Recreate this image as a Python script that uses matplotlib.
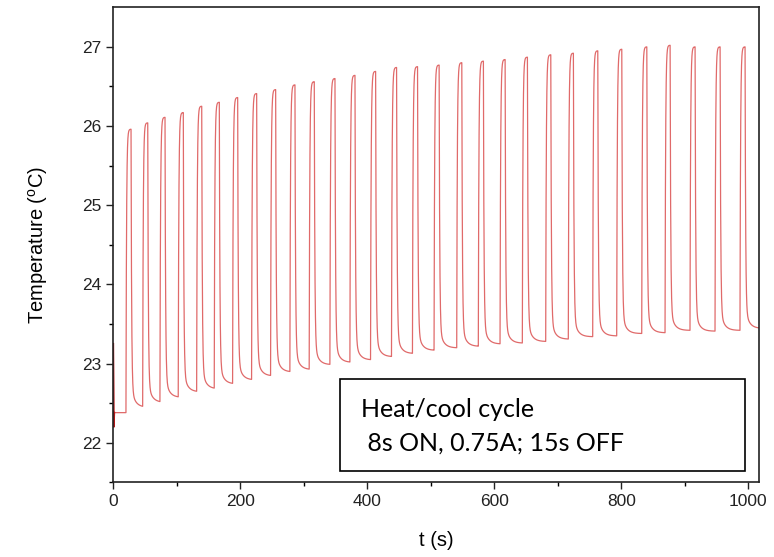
import numpy as np
import matplotlib
matplotlib.use("Agg")
import matplotlib.pyplot as plt
from matplotlib.patches import Rectangle

plt.rcParams['font.family'] = ['Liberation Sans', 'DejaVu Sans']
plt.rcParams['mathtext.default'] = 'regular'

# values
start_t = [0.0, 0.8, 1.6]
start_T = [23.25, 22.2, 22.38]

peak_t = [27.9, 54.2, 81.4, 110.2, 139.2, 166.9, 195.8, 225.7, 255.6, 286.0,
          316.4, 349.0, 380.5, 413.0, 446.0, 479.0, 513.0, 548.7, 582.7, 616.9,
          652.0, 688.8, 724.4, 762.8, 800.6, 840.0, 876.7, 916.0, 955.4, 994.7]
peak_T = [25.96, 26.04, 26.11, 26.17, 26.25, 26.30, 26.36, 26.41, 26.46, 26.52,
          26.56, 26.60, 26.64, 26.69, 26.74, 26.75, 26.77, 26.80, 26.82, 26.84,
          26.87, 26.90, 26.92, 26.95, 26.97, 27.00, 27.02, 27.00, 27.00, 27.00]
# trough before each peak, plus the last one at the right edge
trough_T = [22.38, 22.46, 22.52, 22.58, 22.65, 22.69, 22.75, 22.80, 22.85, 22.90,
            22.93, 22.99, 23.02, 23.05, 23.09, 23.13, 23.17, 23.20, 23.22, 23.25,
            23.26, 23.28, 23.31, 23.34, 23.35, 23.38, 23.39, 23.42, 23.41, 23.42,
            23.45]
t_end = 1017.0
t_on = 8.0


def build_curve():
    # join the read peaks/troughs with heating and cooling segments
    ts = list(start_t)
    Ts = list(start_T)
    n = len(peak_t)
    for i in range(n):
        tp, Tp, Tb = peak_t[i], peak_T[i], trough_T[i]
        t0 = tp - t_on
        ts.append(t0)
        Ts.append(Tb)
        th = np.linspace(0, t_on, 40)[1:]
        rise = (1 - np.exp(-th / 0.9)) / (1 - np.exp(-t_on / 0.9))
        ts.extend(t0 + th)
        Ts.extend(Tb + (Tp - Tb) * rise)
        t_next = peak_t[i + 1] - t_on if i + 1 < n else t_end
        Tn = trough_T[i + 1]
        tc = np.linspace(0, t_next - tp, 80)[1:]
        span = t_next - tp
        fall = 0.93 * np.exp(-tc / 0.9) + 0.07 * np.exp(-tc / 6.0)
        fall_end = 0.93 * np.exp(-span / 0.9) + 0.07 * np.exp(-span / 6.0)
        fall = (fall - fall_end) / (1 - fall_end)
        ts.extend(tp + tc)
        Ts.extend(Tn + (Tp - Tn) * fall)
    return np.array(ts), np.array(Ts)


t, T = build_curve()

fig = plt.figure(figsize=(7.74, 5.57), dpi=100)
ax = fig.add_axes([0.1464, 0.1341, 0.8345, 0.8528])

ax.plot(t, T, color='#e06a6a', linewidth=0.9)
ax.plot(start_t, start_T, color='#b01818', linewidth=1.2)

ax.set_xlim(0, t_end)
ax.set_ylim(21.5, 27.5)
ax.set_xticks([0, 200, 400, 600, 800, 1000])
ax.set_xticks([100, 300, 500, 700, 900], minor=True)
ax.set_yticks([22, 23, 24, 25, 26, 27])
ax.set_yticks([21.5, 22.5, 23.5, 24.5, 25.5, 26.5], minor=True)
ax.tick_params(direction='out', length=5, width=1, labelsize=12.5, colors='#222222')
ax.tick_params(which='minor', direction='out', length=3, width=1)
for s in ax.spines.values():
    s.set_linewidth(1.2)
    s.set_color('#222222')

ax.set_xlabel('t (s)', fontsize=14.5, labelpad=16)
ax.set_ylabel('Temperature ($^{o}$C)', fontsize=14.5, labelpad=23)

ax.add_patch(Rectangle((357, 21.64), 638, 1.16, facecolor='white',
                       edgecolor='black', linewidth=1.2, zorder=5))
ax.text(390, 22.42, 'Heat/cool cycle', fontsize=18, family='Lato',
        va='center', ha='left', zorder=6)
ax.text(390, 22.0, ' 8s ON, 0.75A; 15s OFF', fontsize=18, family='Lato',
        va='center', ha='left', zorder=6)

plt.savefig('out.png', dpi=100)
